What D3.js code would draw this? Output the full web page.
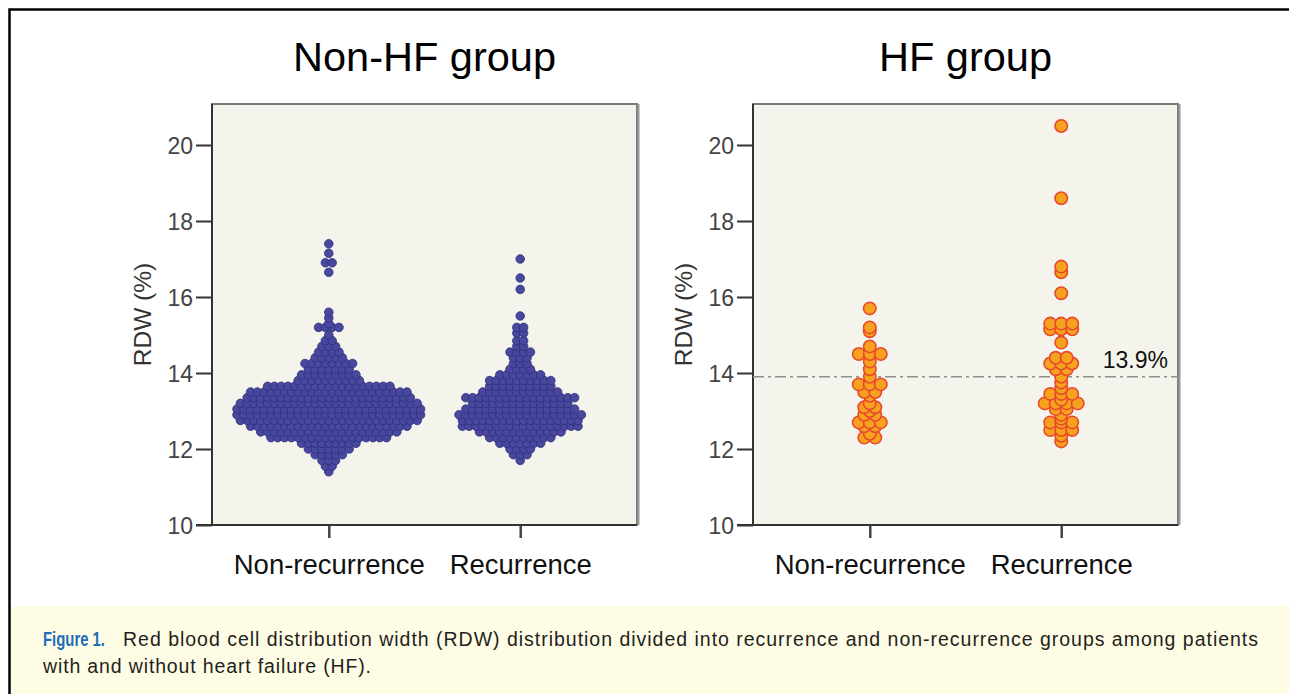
<!DOCTYPE html>
<html>
<head>
<meta charset="utf-8">
<script src="https://cdn.jsdelivr.net/npm/d3@7/dist/d3.min.js"></script>
<style>
  body { margin: 0; background: #fff; }
  svg { display: block; font-family: 'Liberation Sans', Arial, sans-serif; }
</style>
</head>
<body>
<svg id="chart" width="1289" height="694"></svg>
<script>
const categories = ['Non-recurrence', 'Recurrence']
const yTicks = [10, 12, 14, 16, 18, 20]
const cutoff = 13.9

// rows of the dot plots: [RDW %, number of dots in the row]
const nonHfNonRecurrence = [
  [11.4, 1], [11.55, 2], [11.7, 3], [11.85, 5], [12.0, 7], [12.15, 9],
  [12.3, 18], [12.45, 21], [12.6, 24], [12.75, 27], [12.9, 28], [13.05, 28],
  [13.2, 27], [13.35, 25], [13.5, 24], [13.65, 19], [13.8, 10], [13.95, 9],
  [14.1, 7], [14.25, 8], [14.4, 5], [14.55, 4], [14.7, 3], [14.85, 2],
  [15.0, 1], [15.2, 4], [15.3, 1], [15.45, 1], [15.6, 1],
  [16.65, 1], [16.9, 2], [17.15, 1], [17.4, 1]
]
const nonHfRecurrence = [
  [11.7, 1], [11.85, 3], [12.0, 4], [12.15, 7], [12.3, 10], [12.45, 13],
  [12.6, 18], [12.75, 18], [12.9, 19], [13.05, 17], [13.2, 15], [13.35, 17],
  [13.5, 12], [13.65, 10], [13.8, 10], [13.95, 7], [14.1, 4], [14.25, 3],
  [14.4, 3], [14.55, 4], [14.7, 2], [14.85, 2], [15.05, 2], [15.2, 2],
  [15.5, 1], [16.2, 1], [16.5, 1], [17.0, 1]
]
const hfNonRecurrence = [
  [12.3, 2], [12.4, 1], [12.6, 2], [12.7, 3], [12.9, 2], [13.0, 1],
  [13.1, 2], [13.2, 1], [13.4, 1], [13.5, 2], [13.7, 3], [13.9, 1],
  [14.1, 1], [14.3, 1], [14.5, 3], [14.7, 1], [15.1, 1], [15.2, 1], [15.7, 1]
]
const hfRecurrence = [
  [12.2, 1], [12.35, 1], [12.5, 3], [12.7, 3], [12.8, 1], [12.9, 1],
  [13.05, 2], [13.2, 4], [13.3, 1], [13.45, 3], [13.6, 1], [13.75, 1],
  [13.9, 1], [14.1, 2], [14.25, 3], [14.4, 2], [14.8, 1], [15.15, 3],
  [15.3, 3], [16.1, 1], [16.65, 1], [16.8, 1], [18.6, 1], [20.5, 1]
]

const captionLines = [
  'Red blood cell distribution width (RDW) distribution divided into recurrence and non-recurrence groups among patients',
  'with and without heart failure (HF).'
]

const panels = [
  {
    title: 'Non-HF group', left: 212,
    groups: [nonHfNonRecurrence, nonHfRecurrence],
    r: 4.3, step: 6.8, fill: '#48489c', stroke: '#2e2e80', strokeWidth: 0.8
  },
  {
    title: 'HF group', left: 753,
    groups: [hfNonRecurrence, hfRecurrence],
    r: 6.2, step: 11, fill: '#f6a21f', stroke: '#e8492b', strokeWidth: 1.6,
    cutoff: cutoff
  }
]

const plot = { top: 104, bottom: 525, width: 425 }

const svg = d3.select('#chart')

svg.append('rect')
  .attr('x', 11).attr('y', 606)
  .attr('width', 1278).attr('height', 88)
  .attr('fill', '#fffce5')

svg.append('path')
  .attr('d', 'M9.5,694V9.5H1289')
  .attr('fill', 'none')
  .attr('stroke', '#000')
  .attr('stroke-width', 2.5)

const y = d3.scaleLinear()
  .domain([10, 10 + (plot.bottom - plot.top) / 38])
  .range([plot.bottom, plot.top])

panels.forEach((p) => {
  const g = svg.append('g').attr('transform', `translate(${p.left},0)`)

  const x = d3.scalePoint()
    .domain(categories)
    .range([0, plot.width])
    .padding(0.61)

  // plot area
  g.append('rect')
    .attr('x', 0).attr('y', plot.top)
    .attr('width', plot.width).attr('height', plot.bottom - plot.top)
    .attr('fill', '#f4f4ec')
    .attr('stroke', '#7a7a7a')
    .attr('stroke-width', 2)
  g.append('line')
    .attr('x1', plot.width + 1.5).attr('x2', plot.width + 1.5)
    .attr('y1', plot.top).attr('y2', plot.bottom)
    .attr('stroke', '#999').attr('stroke-width', 2)

  g.append('text')
    .attr('x', plot.width / 2)
    .attr('y', 71)
    .attr('text-anchor', 'middle')
    .attr('font-size', 41.5)
    .attr('fill', '#000')
    .text(p.title)

  // y axis
  const yAxis = g.append('g')
    .call(d3.axisLeft(y).tickValues(yTicks).tickSize(16).tickPadding(3))
  yAxis.select('.domain').remove()
  yAxis.selectAll('line').attr('stroke', '#333').attr('stroke-width', 2)
  yAxis.selectAll('text')
    .attr('font-size', 23)
    .attr('font-family', "'Liberation Sans', Arial, sans-serif")
    .attr('fill', '#444')
    .attr('dy', '0.36em')

  g.append('text')
    .attr('transform', `translate(-61,${(plot.top + plot.bottom) / 2}) rotate(-90)`)
    .attr('text-anchor', 'middle')
    .attr('font-size', 24.5)
    .attr('fill', '#333')
    .text('RDW (%)')

  // x axis
  const xAxis = g.append('g')
    .attr('transform', `translate(0,${plot.bottom})`)
    .call(d3.axisBottom(x).tickSize(13).tickPadding(0))
  xAxis.select('.domain').remove()
  xAxis.selectAll('line').attr('stroke', '#444').attr('stroke-width', 2.5)
  xAxis.selectAll('text')
    .attr('y', 49).attr('dy', 0)
    .attr('font-size', 27.5)
    .attr('font-family', "'Liberation Sans', Arial, sans-serif")
    .attr('fill', '#111')

  // axis lines
  g.append('path')
    .attr('d', `M0,${plot.top}V${plot.bottom}H${plot.width}`)
    .attr('fill', 'none')
    .attr('stroke', '#333')
    .attr('stroke-width', 2)
  g.append('line')
    .attr('x1', -16).attr('x2', 0)
    .attr('y1', plot.bottom).attr('y2', plot.bottom)
    .attr('stroke', '#333').attr('stroke-width', 2)

  if (p.cutoff !== undefined) {
    g.append('line')
      .attr('x1', 0).attr('x2', plot.width)
      .attr('y1', y(p.cutoff)).attr('y2', y(p.cutoff))
      .attr('stroke', '#8e8e8e')
      .attr('stroke-width', 1.6)
      .attr('stroke-dasharray', '11,4,3,4')
    g.append('text')
      .attr('x', 415).attr('y', y(p.cutoff) - 9)
      .attr('text-anchor', 'end')
      .attr('font-size', 23)
      .attr('fill', '#111')
      .text(p.cutoff + '%')
  }

  // dots
  const dots = []
  p.groups.forEach((rows, gi) => {
    rows.forEach(([v, n]) => {
      for (let i = 0; i < n; i++) {
        dots.push({ cat: categories[gi], v: v, off: (i - (n - 1) / 2) * p.step })
      }
    })
  })
  g.append('g')
    .selectAll('circle')
    .data(dots)
    .join('circle')
    .attr('cx', (d) => x(d.cat) + d.off)
    .attr('cy', (d) => y(d.v))
    .attr('r', p.r)
    .attr('fill', p.fill)
    .attr('stroke', p.stroke)
    .attr('stroke-width', p.strokeWidth)
})

// caption
const caption = svg.append('g').attr('font-size', 19.5).attr('fill', '#231f20')
caption.append('text')
  .attr('x', 43).attr('y', 646)
  .attr('font-size', 20.5)
  .attr('font-weight', 'bold')
  .attr('fill', '#1c6fb7')
  .attr('textLength', 62)
  .attr('lengthAdjust', 'spacingAndGlyphs')
  .text('Figure 1.')
caption.append('text')
  .attr('x', 123).attr('y', 646)
  .attr('textLength', 1135)
  .attr('lengthAdjust', 'spacing')
  .text(captionLines[0])
caption.append('text')
  .attr('x', 43).attr('y', 673)
  .attr('textLength', 328)
  .attr('lengthAdjust', 'spacing')
  .text(captionLines[1])
</script>
</body>
</html>
